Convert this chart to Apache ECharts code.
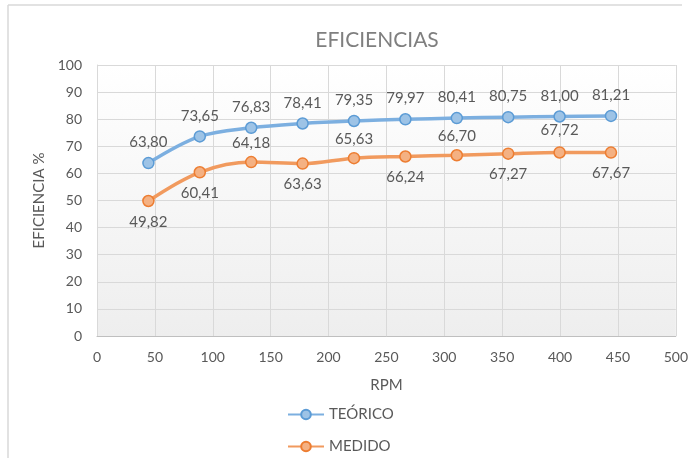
<!DOCTYPE html>
<html>
<head>
<meta charset="utf-8">
<script src="https://cdn.jsdelivr.net/npm/echarts@6/dist/echarts.min.js"></script>
<style>
  html, body { margin: 0; padding: 0; background: #ffffff; }
  #chart { width: 691px; height: 458px; }
</style>
</head>
<body>
<div id="chart"></div>
<script>
// Velocidad de giro (RPM) de cada medición
const rpm = [44.4, 88.8, 133.2, 177.6, 222, 266.4, 310.8, 355.2, 399.6, 444];
// Eficiencia teórica y medida (%)
const teorico = [63.80, 73.65, 76.83, 78.41, 79.35, 79.97, 80.41, 80.75, 81.00, 81.21];
const medido = [49.82, 60.41, 64.18, 63.63, 65.63, 66.24, 66.70, 67.27, 67.72, 67.67];
// Lado de la etiqueta de cada punto medido
const ladoMedido = ['bottom', 'bottom', 'top', 'bottom', 'top', 'bottom', 'top', 'bottom', 'top', 'bottom'];

const FONT = 'Lato, "Open Sans", sans-serif';
const TXT = '#595959';
const fmt = v => v.toFixed(2).replace('.', ',');

const pares = (ys) => rpm.map((x, i) => [x, ys[i]]);

const leyenda = (nombre, top) => ({
  orient: 'vertical',
  left: 282, top: top,
  itemWidth: 36, itemHeight: 12,
  textStyle: { fontFamily: FONT, fontSize: 15, color: TXT },
  data: [nombre]
});

const chart = echarts.init(document.getElementById('chart'), null, { renderer: 'canvas' });

chart.setOption({
  animation: false,
  backgroundColor: '#ffffff',
  textStyle: { fontFamily: FONT },
  title: {
    text: 'EFICIENCIAS',
    left: 372, top: 25,
    textAlign: 'center',
    textStyle: { fontFamily: FONT, fontSize: 21, fontWeight: 'normal', color: '#7f7f7f' }
  },
  graphic: [
    { type: 'line', shape: { x1: 8, y1: 5, x2: 682, y2: 5 }, style: { stroke: '#d9d9d9', lineWidth: 1.5 }, silent: true },
    { type: 'line', shape: { x1: 8, y1: 5, x2: 8, y2: 458 }, style: { stroke: '#d9d9d9', lineWidth: 1.5 }, silent: true }
  ],
  grid: {
    left: 97, right: 11, top: 65, bottom: 122,
    show: true,
    borderWidth: 0,
    backgroundColor: new echarts.graphic.LinearGradient(0, 0, 0, 1, [
      { offset: 0, color: '#ffffff' },
      { offset: 1, color: '#eeeeee' }
    ])
  },
  legend: [leyenda('TEÓRICO', 402), leyenda('MEDIDO', 434)],
  xAxis: {
    type: 'value',
    min: 0, max: 500, interval: 50,
    name: 'RPM',
    nameLocation: 'middle',
    nameGap: 42,
    nameTextStyle: { fontFamily: FONT, fontSize: 15, color: TXT },
    axisLine: { show: true, lineStyle: { color: '#bfbfbf', width: 1 } },
    axisTick: { show: false },
    axisLabel: { fontFamily: FONT, fontSize: 14, color: TXT, margin: 14 },
    splitLine: { show: true, lineStyle: { color: '#d9d9d9', width: 1 } }
  },
  yAxis: {
    type: 'value',
    min: 0, max: 100, interval: 10,
    name: 'EFICIENCIA %',
    nameLocation: 'middle',
    nameGap: 46,
    nameRotate: 90,
    nameTextStyle: { fontFamily: FONT, fontSize: 15, color: TXT },
    axisLine: { show: true, lineStyle: { color: '#d9d9d9', width: 1 } },
    axisTick: { show: false },
    axisLabel: { fontFamily: FONT, fontSize: 14, color: TXT, margin: 15 },
    splitLine: { show: true, lineStyle: { color: '#d9d9d9', width: 1 } }
  },
  series: [
    {
      name: 'TEÓRICO',
      type: 'line',
      smooth: 0.35,
      data: pares(teorico),
      symbol: 'circle',
      symbolSize: 11,
      lineStyle: { color: '#7cafe0', width: 3.5 },
      itemStyle: { color: '#9dc3e6', borderColor: '#5b9bd5', borderWidth: 1.5 },
      label: {
        show: true, position: 'top', distance: 7,
        fontFamily: FONT, fontSize: 15, color: TXT,
        formatter: p => fmt(p.value[1])
      },
      z: 3
    },
    {
      name: 'MEDIDO',
      type: 'line',
      smooth: 0.35,
      data: medido.map((v, i) => ({
        value: [rpm[i], v],
        label: {
          position: ladoMedido[i],
          distance: i === 8 ? 9 : (ladoMedido[i] === 'top' ? 5 : 7)
        }
      })),
      symbol: 'circle',
      symbolSize: 11,
      lineStyle: { color: '#f19a5e', width: 3.5 },
      itemStyle: { color: '#f4b183', borderColor: '#ed7d31', borderWidth: 1.5 },
      label: {
        show: true,
        fontFamily: FONT, fontSize: 15, color: TXT,
        formatter: p => fmt(p.value[1])
      },
      z: 2
    }
  ]
});
</script>
</body>
</html>
